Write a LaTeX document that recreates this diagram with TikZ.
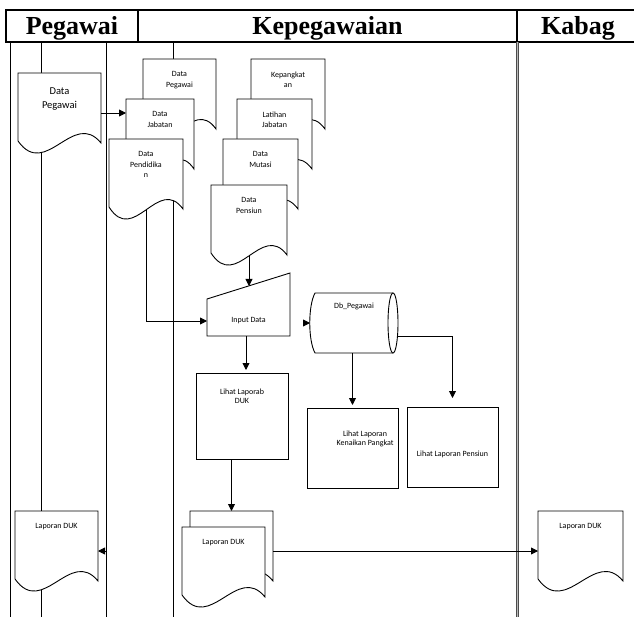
\documentclass[tikz,border=0pt]{standalone}
\usepackage{fontspec}
\setmainfont{Carlito}
\newfontfamily\headfont{Liberation Serif}
\usetikzlibrary{arrows.meta}
\usetikzlibrary{positioning}
\newcommand{\docshape}[4]{%
    \filldraw[doc line] (#2,#3) -- (#2+#4,#3) -- (#2+#4,#3+70)
        .. controls (#2+#4*2/3,#3+36) and (#2+#4/3,#3+107) .. (#2,#3+68) -- cycle;
    \node[doc body, minimum width=#4pt, anchor=north west] (#1) at (#2,#3) {};
}
\newcommand{\doctext}[2]{%
    \node[doc text, below=12.7pt of #1.north] (#1-t) {#2};
}

\begin{document}
\begin{tikzpicture}[x=1pt, y=-1pt,
                    every node/.style={inner sep=0pt, outer sep=0pt},
                    head/.style={draw, line width=2pt, minimum height=32pt,
                        font=\headfont\bfseries\fontsize{26}{26}\selectfont,
                        text height=17.5pt, text depth=0pt},
                    lane/.style={line width=0.9pt},
                    kabag lane/.style={draw=gray!60!black, line width=0.7pt,
                        double=gray!55, double distance=1.4pt},
                    doc line/.style={draw=black, fill=white, line width=0.9pt},
                    doc body/.style={rectangle, minimum height=70pt},
                    doc text/.style={align=center, font=\fontsize{8}{10.5}\selectfont},
                    proc/.style={draw, fill=white, line width=1pt, anchor=north west},
                    proc text/.style={align=center, font=\fontsize{8}{9}\selectfont},
                    arr/.style={-{Triangle[length=7pt,width=7pt]}, line width=0.9pt}]
    \useasboundingbox (0,0) rectangle (634,617);

    % lane headers
    \node[head, minimum width=132pt] (pegH) at (72,26) {Pegawai};
    \node[head, minimum width=379pt] (kepH) at (327.5,26) {Kepegawaian};
    \node[head, minimum width=122pt] (kabH) at (578,26) {Kabag};

    % lane lines
    \draw[lane] (10,42) -- (10,617);
    \draw[lane] (41,42) -- (41,617);
    \draw[lane] (106,42) -- (106,617);
    \draw[lane] (173,42) -- (173,617);
    \draw[kabag lane] (517.5,42) -- (517.5,617);

    % Pegawai
    \docshape{dpP}{18}{73}{83}
    \node[doc text, font=\fontsize{10.5}{14}\selectfont, below=14.5pt of dpP.north] (dpP-t) {Data\\Pegawai};
    \docshape{lapP}{15}{511}{83}
    \doctext{lapP}{Laporan DUK}

    % Kepegawaian: data files
    \docshape{dpK}{143}{59}{73}
    \doctext{dpK}{Data\\Pegawai}
    \docshape{djab}{126}{99}{68}
    \doctext{djab}{Data\\Jabatan}
    \docshape{dpend}{109}{139}{74}
    \doctext{dpend}{Data\\Pendidika\\n}

    \docshape{kpk}{251}{59}{74}
    \doctext{kpk}{Kepangkat\\an}
    \docshape{lat}{237}{99}{75}
    \doctext{lat}{Latihan\\Jabatan}
    \docshape{mut}{223}{139}{75}
    \doctext{mut}{Data\\Mutasi}
    \docshape{pens}{211}{185}{76}
    \doctext{pens}{Data\\Pensiun}

    % input and storage
    \filldraw[doc line] (207,299) -- (290,273) -- (290,336) -- (207,336) -- cycle;
    \node[minimum width=83pt, minimum height=30pt, font=\fontsize{8}{9}\selectfont] (inp) at (248.5,321) {Input Data};
    \coordinate (inp-top) at (249,286);

    \fill[white] (315,293) -- (393,293) -- (393,353) -- (315,353)
        .. controls (308,340) and (308,306) .. cycle;
    \draw[doc line, fill=none] (393,293) -- (315,293)
        .. controls (308,306) and (308,340) .. (315,353) -- (393,353);
    \filldraw[doc line] (393,323) ellipse [x radius=5, y radius=30];
    \node[minimum width=88pt, minimum height=60pt] (db) at (354,323) {};
    \node[doc text, below=10pt of db.north] (db-t) {Db\_Pegawai};

    % reports
    \node[proc, minimum width=92pt, minimum height=86pt] (ldk) at (196,373) {};
    \node[proc text, below=16.4pt of ldk.north] (ldk-t) {Lihat Laporab\\DUK};
    \node[proc, minimum width=91pt, minimum height=80pt] (lkp) at (307,408) {};
    \node[proc text, below=23.4pt of lkp.north, xshift=12.5pt] (lkp-t) {Lihat Laporan\\Kenaikan Pangkat};
    \node[proc, minimum width=91pt, minimum height=80pt] (lps) at (407,407) {};
    \node[proc text] (lps-t) at ([yshift=-7pt]lps.center) {Lihat Laporan Pensiun};

    \docshape{lapKb}{190}{511}{83}
    \docshape{lapK}{182}{527}{83}
    \doctext{lapK}{Laporan DUK}

    % Kabag
    \docshape{lapB}{538}{511}{85}
    \doctext{lapB}{Laporan DUK}

    % flows
    \draw[arr] ([yshift=-5pt]dpP.east) -- ([yshift=-5pt]dpP.east -| djab.west);
    \draw[arr] (dpend.south) |- (inp.west);
    \draw[arr] (pens.south) -- (inp-top);
    \draw[arr] ([xshift=-7pt]db.west) -- (db.west);
    \draw[arr, shorten >=3pt] ([xshift=-2.5pt]inp.south) -- ([xshift=-2.5pt]inp.south |- ldk.north);
    \draw[arr, shorten >=3pt] (lkp.north |- db.south) -- (lkp.north);
    \draw[arr, shorten >=9pt] ([yshift=-13pt]db.east) -| (lps.north);
    \draw[arr] (ldk.south -| lapKb.north) -- (lapKb.north);
    \draw[arr] ([yshift=-5pt]lapKb.east) -- ([yshift=-5pt]lapKb.east -| lapB.west);
    \draw[arr] ([xshift=7pt,yshift=-5pt]lapP.east) -- ([yshift=-5pt]lapP.east);
\end{tikzpicture}
\end{document}
